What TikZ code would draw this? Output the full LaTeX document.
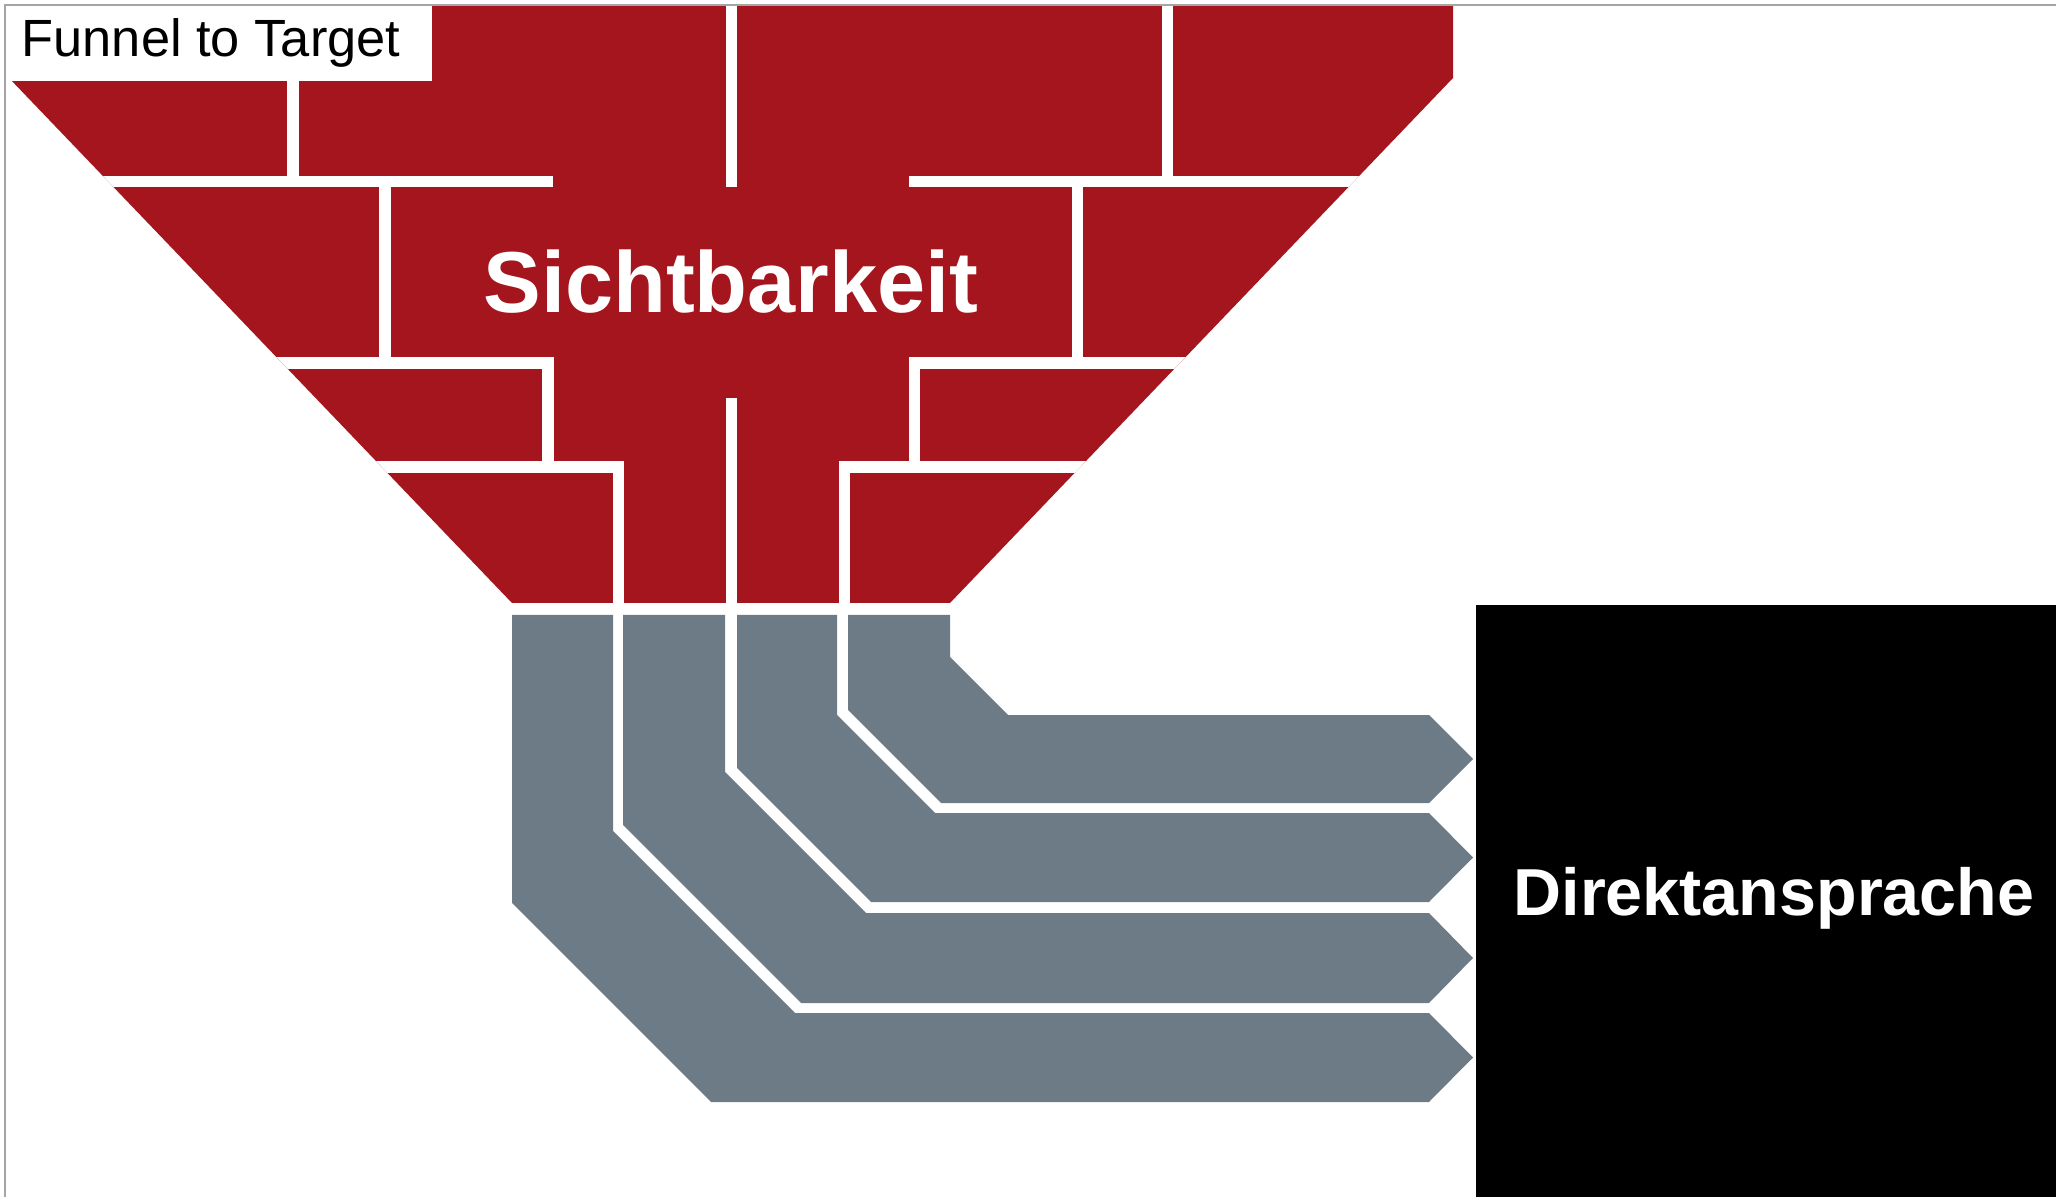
\documentclass[tikz,border=0pt]{standalone}
\usepackage{fontspec}
\setmainfont{Liberation Sans}
\definecolor{funnelred}{RGB}{164,21,30}
\definecolor{bandgrey}{RGB}{108,123,133}
\definecolor{framegrey}{RGB}{165,165,165}
\begin{document}
\begin{tikzpicture}[x=0.01cm,y=-0.01cm,
  brickgap/.style={draw=white, line width=0.11cm},
  greyband/.style={fill=bandgrey}]
\useasboundingbox (0,0) rectangle (2056,1197);

\fill[funnelred] (9,5) -- (1453,5) -- (1453,78) -- (950,603) -- (512,603) -- (9,78) -- cycle;
\begin{scope}
\clip (9,5) -- (1453,5) -- (1453,78) -- (950,603) -- (512,603) -- (9,78) -- cycle;
\draw[brickgap] (293,0) -- (293,181.5);
\draw[brickgap] (731,0) -- (731,187);
\draw[brickgap] (1167,0) -- (1167,181.5);
\draw[brickgap] (0,181.5) -- (553,181.5);
\draw[brickgap] (909,181.5) -- (1500,181.5);
\draw[brickgap] (385,181.5) -- (385,363);
\draw[brickgap] (1077,181.5) -- (1077,363);
\draw[brickgap] (0,363) -- (548,363) -- (548,467);
\draw[brickgap] (1500,363) -- (914,363) -- (914,467);
\draw[brickgap] (0,467) -- (618,467) -- (618,603);
\draw[brickgap] (1500,467) -- (844,467) -- (844,603);
\draw[brickgap] (731,398) -- (731,603);
\end{scope}

\foreach \xl/\xr/\yt/\yb/\ci/\co in {848/950/715/803/-293/-138, 737/837/813/902/-122/31,
                                     623/725/913/1003/47/202, 512/613/1013/1102/218/391}
  \fill[greyband] (\xl,615) -- (\xl,{\xl+\co}) -- ({\yb-\co},\yb) -- (1429,\yb)
    -- (1473,{(\yt+\yb)/2}) -- (1429,\yt) -- ({\yt-\ci},\yt) -- (\xr,{\xr+\ci}) -- (\xr,615) -- cycle;

\fill[black] (1476,605) rectangle (2056,1197);

\fill[white] (5,5) rectangle (432,81);
\node[anchor=base west, inner sep=0pt, font=\fontsize{14.9}{18}\selectfont] (title) at (21,57) {Funnel to Target};
\node[anchor=base, inner sep=0pt, text=white, font=\fontsize{24.6}{30}\selectfont\bfseries] (sicht) at (731,313) {Sichtbarkeit};
\node[anchor=base, inner sep=0pt, text=white, font=\fontsize{18.9}{23}\selectfont\bfseries] (direkt) at (1774,915) {Direktansprache};

\draw[framegrey, line width=0.015cm] (5,1197) -- (5,5) -- (2056,5);
\end{tikzpicture}
\end{document}
